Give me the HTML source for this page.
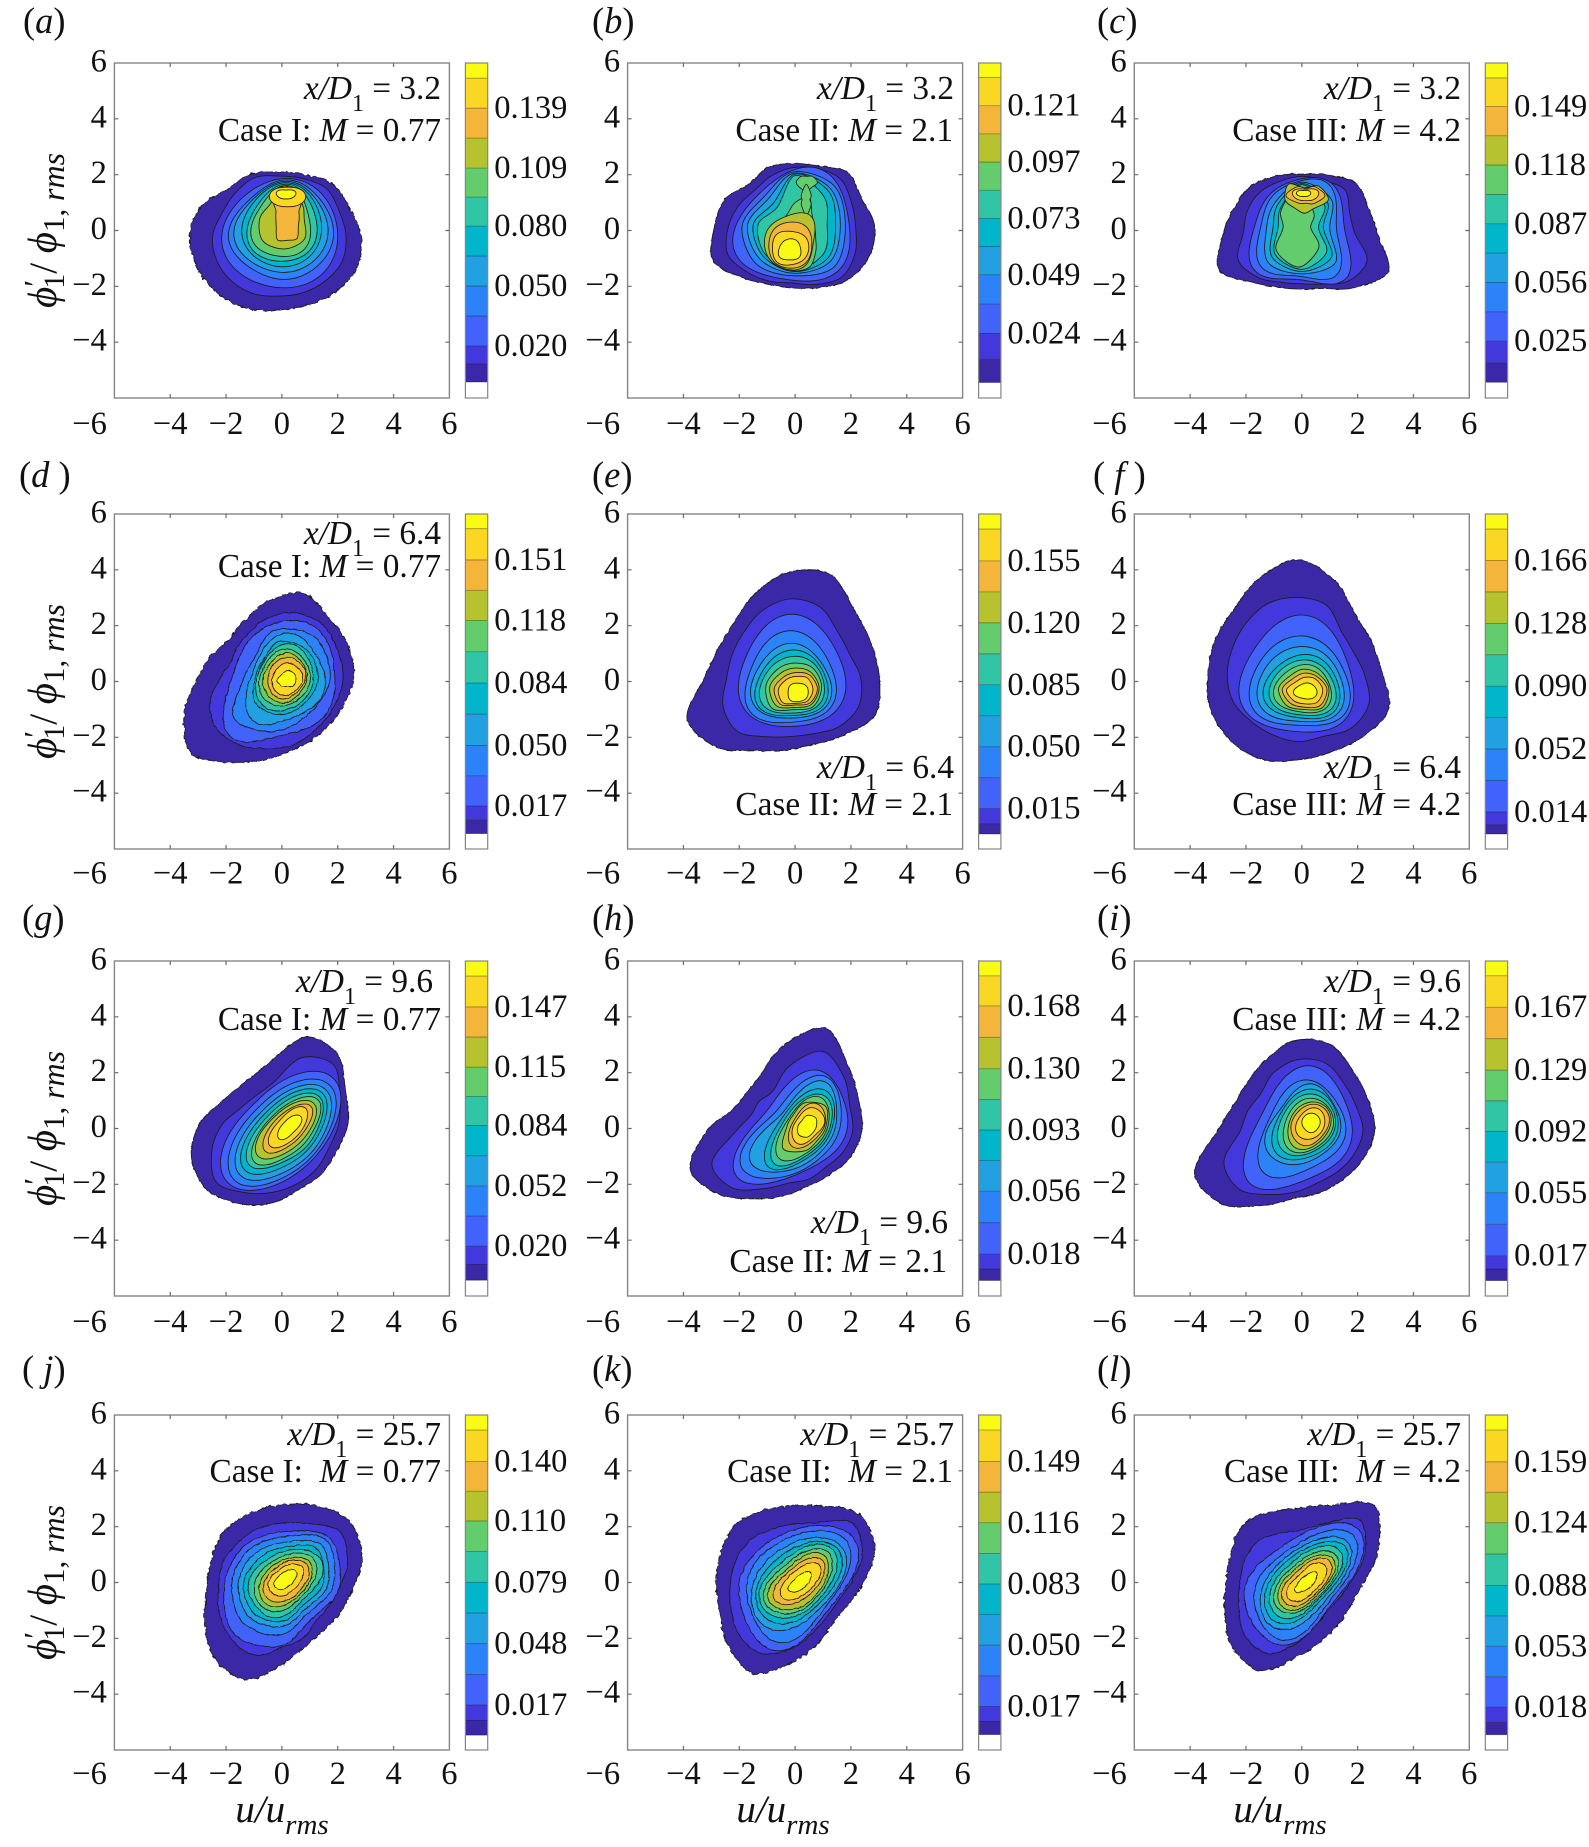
<!DOCTYPE html>
<html lang="en">
<head>
<meta charset="utf-8">
<title>Joint PDF contour panels</title>
<style>
html,body{margin:0;padding:0;background:#fff;}
svg{display:block;filter:blur(0.35px);}
text{font-family:"Liberation Serif",serif;fill:#111;white-space:pre;}
.tick{font-size:32.5px;}
.ann{font-size:33.3px;text-anchor:end;}
.it{font-style:italic;}
.sub{font-size:24px;}
.letter{font-size:36.5px;}
.ylab{font-size:41px;text-anchor:middle;}
.xlab{font-size:39px;text-anchor:middle;font-style:italic;}
</style>
</head>
<body>
<svg id="figure" xmlns="http://www.w3.org/2000/svg" width="1589" height="1847" viewBox="0 0 1589 1847">
<rect width="1589" height="1847" fill="#fff"/>
<defs>
<filter id="edgeSoft" filterUnits="userSpaceOnUse" x="0" y="0" width="1589" height="1847" color-interpolation-filters="sRGB"><feTurbulence type="fractalNoise" baseFrequency="0.2" numOctaves="2" seed="4"/><feDisplacementMap in="SourceGraphic" scale="2.4" xChannelSelector="R" yChannelSelector="G"/></filter>
<filter id="edgeRough" filterUnits="userSpaceOnUse" x="0" y="0" width="1589" height="1847" color-interpolation-filters="sRGB"><feTurbulence type="fractalNoise" baseFrequency="0.22" numOctaves="2" seed="9"/><feDisplacementMap in="SourceGraphic" scale="4.6" xChannelSelector="R" yChannelSelector="G"/></filter>
<filter id="innerRough" filterUnits="userSpaceOnUse" x="0" y="0" width="1589" height="1847" color-interpolation-filters="sRGB"><feTurbulence type="fractalNoise" baseFrequency="0.16" numOctaves="2" seed="15"/><feDisplacementMap in="SourceGraphic" scale="2.2" xChannelSelector="R" yChannelSelector="G"/></filter>
</defs>

<g>
<text class="letter" x="23" y="33">(<tspan class="it">a</tspan>)</text>
<text class="letter" x="592" y="33">(<tspan class="it">b</tspan>)</text>
<text class="letter" x="1097" y="33">(<tspan class="it">c</tspan>)</text>
<text class="letter" x="19" y="487">(<tspan class="it">d</tspan> )</text>
<text class="letter" x="592" y="487">(<tspan class="it">e</tspan>)</text>
<text class="letter" x="1093" y="487">( <tspan class="it">f</tspan> )</text>
<text class="letter" x="22" y="930">(<tspan class="it">g</tspan>)</text>
<text class="letter" x="592" y="930">(<tspan class="it">h</tspan>)</text>
<text class="letter" x="1097" y="930">(<tspan class="it">i</tspan>)</text>
<text class="letter" x="22" y="1381">( <tspan class="it">j</tspan>)</text>
<text class="letter" x="592" y="1381">(<tspan class="it">k</tspan>)</text>
<text class="letter" x="1097" y="1381">(<tspan class="it">l</tspan>)</text>
</g>

<g id="plots"></g>

<g>
<text class="ann" x="441" y="99"><tspan class="it">x/D</tspan><tspan class="sub" dy="12">1</tspan><tspan dy="-12"> = 3.2</tspan></text>
<text class="ann" x="441" y="141">Case I: <tspan class="it">M</tspan> = 0.77</text>
<text class="ann" x="954" y="99"><tspan class="it">x/D</tspan><tspan class="sub" dy="12">1</tspan><tspan dy="-12"> = 3.2</tspan></text>
<text class="ann" x="953" y="141">Case II: <tspan class="it">M</tspan> = 2.1</text>
<text class="ann" x="1461" y="99"><tspan class="it">x/D</tspan><tspan class="sub" dy="12">1</tspan><tspan dy="-12"> = 3.2</tspan></text>
<text class="ann" x="1461" y="141">Case III: <tspan class="it">M</tspan> = 4.2</text>

<text class="ann" x="441" y="544"><tspan class="it">x/D</tspan><tspan class="sub" dy="12">1</tspan><tspan dy="-12"> = 6.4</tspan></text>
<text class="ann" x="441" y="577">Case I: <tspan class="it">M</tspan> = 0.77</text>
<text class="ann" x="954" y="778"><tspan class="it">x/D</tspan><tspan class="sub" dy="12">1</tspan><tspan dy="-12"> = 6.4</tspan></text>
<text class="ann" x="953" y="815">Case II: <tspan class="it">M</tspan> = 2.1</text>
<text class="ann" x="1461" y="778"><tspan class="it">x/D</tspan><tspan class="sub" dy="12">1</tspan><tspan dy="-12"> = 6.4</tspan></text>
<text class="ann" x="1461" y="815">Case III: <tspan class="it">M</tspan> = 4.2</text>

<text class="ann" x="433" y="992"><tspan class="it">x/D</tspan><tspan class="sub" dy="12">1</tspan><tspan dy="-12"> = 9.6</tspan></text>
<text class="ann" x="441" y="1030">Case I: <tspan class="it">M</tspan> = 0.77</text>
<text class="ann" x="948" y="1233"><tspan class="it">x/D</tspan><tspan class="sub" dy="12">1</tspan><tspan dy="-12"> = 9.6</tspan></text>
<text class="ann" x="947" y="1272">Case II: <tspan class="it">M</tspan> = 2.1</text>
<text class="ann" x="1461" y="992"><tspan class="it">x/D</tspan><tspan class="sub" dy="12">1</tspan><tspan dy="-12"> = 9.6</tspan></text>
<text class="ann" x="1461" y="1030">Case III: <tspan class="it">M</tspan> = 4.2</text>

<text class="ann" x="441" y="1445"><tspan class="it">x/D</tspan><tspan class="sub" dy="12">1</tspan><tspan dy="-12"> = 25.7</tspan></text>
<text class="ann" x="441" y="1482">Case I:  <tspan class="it">M</tspan> = 0.77</text>
<text class="ann" x="954" y="1445"><tspan class="it">x/D</tspan><tspan class="sub" dy="12">1</tspan><tspan dy="-12"> = 25.7</tspan></text>
<text class="ann" x="953" y="1482">Case II:  <tspan class="it">M</tspan> = 2.1</text>
<text class="ann" x="1461" y="1445"><tspan class="it">x/D</tspan><tspan class="sub" dy="12">1</tspan><tspan dy="-12"> = 25.7</tspan></text>
<text class="ann" x="1461" y="1482">Case III:  <tspan class="it">M</tspan> = 4.2</text>
</g>

<g>
<text class="ylab" transform="translate(56,230.5) rotate(-90)"><tspan class="it">ϕ</tspan><tspan dy="-10" font-size="32">′</tspan><tspan dy="18" dx="-9" font-size="30">1</tspan><tspan dy="-8" font-size="39">/ </tspan><tspan class="it">ϕ</tspan><tspan dy="8" font-size="31">1, </tspan><tspan class="it" font-size="32">rms</tspan></text>
<text class="ylab" transform="translate(56,681.5) rotate(-90)"><tspan class="it">ϕ</tspan><tspan dy="-10" font-size="32">′</tspan><tspan dy="18" dx="-9" font-size="30">1</tspan><tspan dy="-8" font-size="39">/ </tspan><tspan class="it">ϕ</tspan><tspan dy="8" font-size="31">1, </tspan><tspan class="it" font-size="32">rms</tspan></text>
<text class="ylab" transform="translate(56,1128.5) rotate(-90)"><tspan class="it">ϕ</tspan><tspan dy="-10" font-size="32">′</tspan><tspan dy="18" dx="-9" font-size="30">1</tspan><tspan dy="-8" font-size="39">/ </tspan><tspan class="it">ϕ</tspan><tspan dy="8" font-size="31">1, </tspan><tspan class="it" font-size="32">rms</tspan></text>
<text class="ylab" transform="translate(56,1582.5) rotate(-90)"><tspan class="it">ϕ</tspan><tspan dy="-10" font-size="32">′</tspan><tspan dy="18" dx="-9" font-size="30">1</tspan><tspan dy="-8" font-size="39">/ </tspan><tspan class="it">ϕ</tspan><tspan dy="8" font-size="31">1, </tspan><tspan class="it" font-size="32">rms</tspan></text>
</g>
<g>
<text class="xlab" x="282" y="1822">u/u<tspan dy="12" font-size="29">rms</tspan></text>
<text class="xlab" x="783" y="1822">u/u<tspan dy="12" font-size="29">rms</tspan></text>
<text class="xlab" x="1280" y="1822">u/u<tspan dy="12" font-size="29">rms</tspan></text>
</g>
</svg>

<script>
// Axis tick values
const xTickValues = [-6, -4, -2, 0, 2, 4, 6];
const yTickValues = [-6, -4, -2, 0, 2, 4, 6];
const bandColors = ['#3a28a6','#4338dc','#4162fb','#2c82f9','#21a0e2','#01b6cb','#2fc5a5','#63cd6e','#b6c32f','#f3b63a','#f9d723','#f9fb14'];

// Contour rings: [band level, centre x, centre y, radii going counter-clockwise from +x]
const panelAContours = [
[1,-.2,-.3,3.05,2.85,2.8,2.5,2.4,2.5,2.5,2.95,3.1,3.0,2.85,2.7,2.55,2.6,2.8,3.05],
[2,-.1,-.2,2.4,2.33,2.4,2.23,2.15,2.27,2.2,2.2,2.38,2.4,2.34,2.25,2.15,2.2,2.3,2.43],
[3,-.05,-.15,2.05,2.08,2.0,1.9,2.1,2.0,1.9,2.05],
[4,0,0,1.85,1.77,1.8,1.6,1.9,1.77,1.75,1.8],
[5,0,.1,1.65,1.6,1.65,1.45,1.7,1.65,1.6,1.65],
[6,0,.2,1.42,1.45,1.5,1.3,1.42,1.5,1.5,1.5],
[7,.05,.25,1.2,1.25,1.4,1.15,1.25,1.45,1.35,1.35],
[8,.05,.3,.95,1.05,1.3,1.0,1.1,1.3,1.23,1.2],
[9,.1,.4,.7,.85,1.2,.75,.9,1.1,1.06,1.0],
[10,.2,.55,.42,.45,.72,.95,.95,.95,.72,.45,.42,.45,.57,.95,.9,.9,.55,.45],
[11,.2,1.25,.65,.4,.3,.4,.65,.5,.4,.5],
[12,.15,1.3,.35,.22,.15,.22,.35,.22,.17,.22]
];
const panelBContours = [
[1,-.1,.1,2.96,2.7,2.8,2.4,2.3,2.33,2.2,2.63,2.8,3.08,2.53,2.2,2.16,2.33,2.7,2.93],
[2,-.1,.1,2.27,2.3,2.45,2.3,2.15,2.0,1.9,2.08,2.3,2.5,2.26,2.08,1.98,2.2,2.5,2.43],
[3,-.1,.1,2.05,2.26,2.05,1.7,2.05,2.1,1.88,2.25],
[4,-.05,.15,1.85,2.05,1.95,1.5,1.85,1.9,1.77,2.05],
[5,-.05,.2,1.67,1.85,1.85,1.3,1.65,1.72,1.73,1.85],
[6,0,.2,1.45,1.7,1.82,1.1,1.5,1.6,1.67,1.67],
[7,0,.2,1.15,1.45,1.77,.9,1.33,1.5,1.63,1.45],
[8,0,0,.72,.72,.85,1.3,1.0,.67,.58,.58,.8,1.05,1.35,1.44,1.45,1.4,1.05,.8],
[8,.42,1.72,.38,.3,.22,.3,.38,.3,.3,.25],
[8,.4,1.1,.13,.25,.55,.25,.15,.25,.55,.25],
[9,-.2,-.45,.85,1.2,1.0,.92,.9,.92,.96,.95],
[10,-.17,-.5,.77,.85,.8,.8,.77,.85,.85,.85],
[11,-.16,-.63,.65,.65,.6,.7,.65,.7,.6,.62],
[12,-.2,-.67,.4,.4,.37,.35,.38,.45,.38,.45]
];
const panelCContours = [
[1,0,-.2,2.74,2.6,2.7,2.37,2.22,2.34,2.55,2.63,2.84,3.2,2.37,2.0,1.9,2.03,2.62,3.35],
[2,0,-.1,1.9,1.86,2.19,2.04,2.04,2.02,2.1,2.11,2.1,2.47,2.23,1.9,1.81,1.97,2.4,2.53],
[3,0,-.05,1.55,1.9,1.9,1.75,1.75,2.15,1.72,2.3],
[4,0,0,1.25,1.7,1.79,1.6,1.5,1.95,1.65,1.95],
[5,0,.05,1.0,1.5,1.68,1.35,1.27,1.7,1.6,1.7],
[6,0,.1,.77,1.3,1.58,1.2,1.03,1.5,1.57,1.5],
[7,0,.1,.6,1.15,1.54,1.05,.85,1.35,1.49,1.25],
[8,-.1,.1,.42,.75,1.48,.9,.57,1.15,1.41,1.0],
[9,.1,1.1,.85,.7,.43,.8,.7,.45,.48,.45],
[10,.15,1.25,.68,.45,.26,.45,.72,.38,.27,.4],
[11,.15,1.28,.45,.3,.2,.3,.48,.28,.21,.28],
[12,.07,1.32,.25,.16,.11,.16,.26,.14,.1,.14]
];
const panelDContours = [
[1,-.55,.1,3.12,3.15,3.13,3.33,2.74,2.2,1.94,2.15,2.48,3.2,3.79,3.24,2.88,2.72,2.76,2.88],
[2,-.55,.1,2.74,2.75,2.78,2.56,2.15,1.73,1.52,1.41,1.67,2.2,2.53,2.56,2.5,2.56,2.53,2.62],
[3,-.4,.1,2.3,2.45,1.93,1.43,1.4,2.36,2.13,2.28],
[4,-.3,.1,2.03,2.1,1.72,1.0,1.07,2.0,1.89,1.78],
[5,-.2,.1,1.75,1.68,1.52,.95,.93,1.52,1.59,1.6],
[6,-.1,.1,1.4,1.43,1.34,.85,.86,1.22,1.29,1.27],
[7,-.05,.1,1.18,1.25,1.2,.85,.85,1.1,1.15,1.12],
[8,0,.1,1.02,1.05,1.05,.8,.8,.95,.98,.95],
[9,.05,.1,.85,.9,.9,.7,.73,.8,.87,.78],
[10,.1,.1,.75,.78,.76,.62,.6,.68,.72,.65],
[11,.15,.05,.6,.62,.62,.5,.5,.55,.55,.5],
[12,.2,.03,.3,.35,.36,.3,.38,.28,.2,.28]
];
const panelEContours = [
[1,-.33,.12,3.35,3.3,3.46,4.05,3.76,3.16,2.7,2.65,2.93,3.83,3.5,2.8,2.58,2.57,2.9,3.46],
[2,-.15,.12,2.5,2.27,2.36,2.75,2.84,2.63,2.36,2.27,2.3,2.63,2.7,2.27,2.09,2.15,2.45,2.63],
[3,-.1,.06,1.91,1.95,2.35,1.95,1.91,1.95,1.67,1.86],
[4,-.14,-.05,1.6,1.6,1.87,1.6,1.6,1.75,1.41,1.6],
[5,-.13,-.05,1.41,1.3,1.42,1.3,1.42,1.5,1.26,1.45],
[6,-.1,-.1,1.26,1.2,1.23,1.15,1.28,1.4,1.12,1.3],
[7,-.08,-.12,1.12,1.07,1.02,1.0,1.15,1.25,1.01,1.15],
[8,-.05,-.18,1.0,.95,.84,.85,1.0,1.1,.83,1.0],
[9,-.02,-.22,.88,.8,.7,.72,.89,.92,.71,.85],
[10,.02,-.26,.78,.7,.58,.6,.77,.78,.58,.72],
[11,.02,-.3,.62,.6,.48,.5,.62,.65,.48,.58],
[12,.1,-.4,.37,.38,.34,.38,.35,.38,.32,.35]
];
const panelFContours = [
[1,-.14,.36,3.01,2.84,2.9,3.5,4.0,3.62,3.2,3.17,3.22,3.4,3.46,3.4,3.17,3.13,3.3,3.52],
[2,-.14,.24,2.39,2.15,2.2,2.69,2.77,2.77,2.62,2.53,2.53,2.51,2.36,2.33,2.39,2.39,2.7,2.75],
[3,-.1,.1,1.9,1.95,2.28,1.95,2.1,2.15,1.9,2.2],
[4,-.1,0,1.75,1.6,1.63,1.55,1.72,1.85,1.57,1.95],
[5,-.05,-.05,1.5,1.35,1.3,1.3,1.5,1.6,1.38,1.7],
[6,0,-.1,1.3,1.15,1.06,1.05,1.33,1.37,1.21,1.5],
[7,0,-.15,1.17,1.0,.92,.92,1.13,1.18,1.05,1.32],
[8,.02,-.2,1.0,.88,.8,.78,1.0,1.0,.9,1.12],
[9,.05,-.25,.92,.75,.69,.65,.88,.85,.75,.97],
[10,.08,-.28,.82,.65,.58,.55,.78,.7,.64,.82],
[11,.1,-.3,.65,.55,.45,.42,.65,.55,.5,.63],
[12,.12,-.33,.42,.33,.27,.27,.41,.33,.29,.38]
];
const panelGContours = [
[1,-.42,.25,2.8,2.92,3.41,3.28,2.14,1.73,1.68,1.87,2.48,3.06,3.33,3.16,2.93,2.65,2.62,2.62],
[2,-.3,.13,2.33,2.57,3.04,2.6,1.52,1.25,1.22,1.37,1.85,2.39,2.9,2.63,2.41,2.27,2.2,2.15],
[3,-.3,.1,2.2,2.65,1.4,1.05,1.4,2.55,2.15,1.85],
[4,-.2,.05,1.95,2.35,1.25,.95,1.25,2.35,1.92,1.65],
[5,-.1,.03,1.7,2.1,1.12,.85,1.12,2.15,1.68,1.45],
[6,-.05,.03,1.48,1.9,.99,.75,.99,1.95,1.45,1.25],
[7,0,.03,1.3,1.7,.86,.65,.86,1.75,1.25,1.1],
[8,.03,.03,1.15,1.55,.73,.55,.73,1.55,1.12,.95],
[9,.05,.03,1.0,1.35,.66,.5,.68,1.35,.95,.8],
[10,.12,.05,.78,1.15,.55,.42,.55,1.1,.76,.62],
[11,.18,.05,.6,.95,.5,.35,.46,.9,.6,.48],
[12,.25,.07,.36,.55,.3,.22,.29,.55,.36,.26]
];
const panelHContours = [
[1,-.45,-.1,2.84,2.95,3.33,4.0,3.05,2.13,1.89,1.97,2.72,3.58,3.2,2.62,2.33,2.17,2.28,2.57],
[2,-.21,-.1,2.27,2.35,2.76,3.1,2.33,1.55,1.52,1.49,1.91,3.0,2.87,2.21,1.85,1.85,1.83,2.05],
[3,-.1,-.1,1.95,2.28,1.85,1.18,1.55,2.53,1.61,1.52],
[4,.02,-.1,1.55,2.1,1.55,1.0,1.45,2.25,1.5,1.3],
[5,.1,-.1,1.3,1.85,1.35,.85,1.25,1.95,1.3,1.1],
[6,.2,-.05,1.1,1.6,1.2,.8,.95,1.75,1.15,.95],
[7,.25,-.02,.98,1.4,1.05,.72,.82,1.55,1.05,.85],
[8,.3,0,.85,1.2,.98,.65,.75,1.35,.95,.75],
[9,.35,.05,.75,1.05,.87,.6,.65,1.1,.85,.65],
[10,.4,.08,.65,.85,.75,.5,.55,.85,.7,.55],
[11,.42,.1,.6,.7,.6,.42,.48,.68,.6,.45],
[12,.43,.07,.33,.44,.4,.28,.33,.42,.38,.3]
];
const panelIContours = [
[1,-.26,-.1,2.87,2.87,3.0,3.37,3.25,2.75,2.42,2.39,2.77,3.88,3.68,2.87,2.4,2.37,2.45,2.65],
[2,-.14,-.1,2.33,2.27,2.37,2.63,2.57,2.27,1.89,1.94,2.07,2.87,2.95,2.45,2.15,1.97,2.03,2.17],
[3,-.14,-.1,1.95,2.1,2.27,1.5,1.6,2.53,1.85,1.77],
[4,-.02,0,1.6,1.6,1.72,1.25,1.3,2.05,1.57,1.45],
[5,.05,.05,1.35,1.4,1.5,1.05,1.25,1.55,1.3,1.2],
[6,.1,.08,1.2,1.3,1.3,1.0,1.08,1.4,1.15,1.1],
[7,.13,.1,1.07,1.15,1.12,.9,.95,1.2,1.03,.95],
[8,.18,.12,.95,1.0,.95,.78,.8,1.05,.95,.85],
[9,.23,.13,.8,.9,.8,.68,.7,.9,.85,.72],
[10,.27,.15,.7,.78,.7,.6,.65,.75,.75,.62],
[11,.3,.17,.52,.6,.55,.45,.5,.6,.55,.5],
[12,.33,.22,.33,.33,.33,.32,.33,.33,.37,.33]
];
const panelJContours = [
[1,0,-.3,2.5,3.1,3.47,3.3,3.08,3.0,2.97,2.75,2.7,3.0,3.4,3.45,2.65,2.15,2.05,2.2],
[2,0,-.2,2.05,2.55,2.9,2.5,2.33,2.3,2.26,2.3,2.27,2.42,2.57,2.6,2.13,1.95,1.7,1.8],
[3,-.1,-.2,2.15,2.55,2.0,1.95,1.97,2.3,2.1,1.6],
[4,-.05,-.1,1.9,2.3,1.73,1.7,1.75,1.9,1.78,1.4],
[5,-.02,-.05,1.67,2.0,1.47,1.45,1.55,1.65,1.53,1.25],
[6,0,-.05,1.47,1.78,1.3,1.22,1.37,1.45,1.35,1.08],
[7,.02,-.02,1.27,1.55,1.12,1.02,1.22,1.27,1.2,.95],
[8,.05,0,1.05,1.35,.95,.85,1.02,1.15,1.0,.82],
[9,.07,0,.9,1.15,.82,.72,.85,1.0,.82,.7],
[10,.1,.02,.78,1.0,.7,.6,.72,.85,.68,.6],
[11,.1,.05,.58,.8,.53,.45,.56,.62,.5,.45],
[12,.1,.08,.34,.52,.3,.26,.34,.42,.3,.25]
];
const panelKContours = [
[1,-.1,.04,2.57,3.2,3.4,2.93,2.69,2.75,2.87,2.77,2.71,2.82,3.25,3.58,2.89,2.4,2.07,2.15],
[2,-.1,.04,2.13,2.72,3.0,2.27,2.05,2.0,2.11,2.15,2.21,2.39,2.7,2.8,2.39,1.97,1.77,1.79],
[3,-.05,-.05,1.95,2.65,1.93,1.75,1.95,2.25,2.24,1.55],
[4,-.03,-.05,1.7,2.4,1.73,1.55,1.7,1.95,2.0,1.4],
[5,0,-.05,1.6,2.1,1.5,1.3,1.5,1.85,1.55,1.25],
[6,.03,-.03,1.42,1.92,1.3,1.1,1.35,1.65,1.35,1.1],
[7,.05,0,1.25,1.75,1.12,.9,1.2,1.5,1.2,1.0],
[8,.07,0,1.08,1.55,.95,.75,1.05,1.35,1.05,.88],
[9,.1,0,.95,1.35,.82,.62,.9,1.2,.92,.78],
[10,.12,.02,.78,1.15,.65,.5,.72,1.05,.72,.6],
[11,.17,.03,.6,.92,.5,.4,.55,.85,.55,.45],
[12,.17,0,.32,.52,.27,.2,.3,.48,.28,.24]
];
const panelLContours = [
[1,-.14,.04,2.39,3.13,3.85,2.95,2.62,2.69,2.82,2.6,2.57,2.84,3.33,3.46,2.69,2.27,2.11,2.09],
[2,-.14,.04,1.91,2.6,3.12,2.21,1.82,1.85,2.03,2.05,2.07,2.3,2.7,2.8,2.19,1.7,1.52,1.59],
[3,-.05,-.05,1.7,2.85,1.75,1.5,1.95,2.25,2.0,1.35],
[4,-.03,-.05,1.5,2.55,1.5,1.25,1.6,2.0,1.82,1.2],
[5,0,-.03,1.35,2.2,1.32,1.08,1.35,1.85,1.45,1.05],
[6,.02,0,1.22,1.98,1.15,.95,1.2,1.7,1.25,.92],
[7,.05,0,1.08,1.72,1.02,.8,1.05,1.5,1.1,.8],
[8,.08,0,.97,1.5,.88,.68,.92,1.32,.95,.72],
[9,.1,0,.85,1.3,.76,.58,.8,1.18,.85,.62],
[10,.12,0,.75,1.15,.65,.48,.68,1.03,.72,.54],
[11,.15,0,.58,.92,.5,.36,.52,.85,.56,.42],
[12,.15,0,.3,.52,.26,.2,.28,.48,.27,.23]
];

// Colour-bar printed ticks, band lower edges and limits
const panelATicks = [.020,.050,.080,.109,.139];
const panelBTicks = [.024,.049,.073,.097,.121];
const panelCTicks = [.025,.056,.087,.118,.149];
const panelDTicks = [.017,.050,.084,.118,.151];
const panelETicks = [.015,.050,.085,.120,.155];
const panelFTicks = [.014,.052,.090,.128,.166];
const panelGTicks = [.020,.052,.084,.115,.147];
const panelHTicks = [.018,.056,.093,.130,.168];
const panelITicks = [.017,.055,.092,.129,.167];
const panelJTicks = [.017,.048,.079,.110,.140];
const panelKTicks = [.017,.050,.083,.116,.149];
const panelLTicks = [.018,.053,.088,.124,.159];

const panelALevels = [.002,.011,.020,.035,.050,.065,.080,.0945,.109,.124,.139,.154];
const panelBLevels = [.0031,.013,.024,.0365,.049,.061,.073,.085,.097,.109,.121,.133];
const panelCLevels = [.0033,.0136,.025,.0405,.056,.0715,.087,.1025,.118,.1335,.149,.164];
const panelDLevels = [.002,.0093,.017,.0335,.050,.067,.084,.101,.118,.1345,.151,.168];
const panelELevels = [.0007,.0065,.015,.0325,.050,.0675,.085,.1025,.120,.1375,.155,.173];
const panelFLevels = [.0007,.0063,.014,.033,.052,.071,.090,.109,.128,.147,.166,.185];
const panelGLevels = [.0019,.0102,.020,.036,.052,.068,.084,.0995,.115,.131,.147,.1634];
const panelHLevels = [.0021,.009,.018,.037,.056,.0745,.093,.1115,.130,.149,.168,.1861];
const panelILevels = [.002,.009,.017,.036,.055,.0735,.092,.1105,.129,.148,.167,.186];
const panelJLevels = [.0018,.0092,.017,.0325,.048,.0635,.079,.0945,.110,.125,.140,.1559];
const panelKLevels = [.0018,.0089,.017,.0335,.050,.0665,.083,.0995,.116,.1325,.149,.166];
const panelLLevels = [.0022,.0093,.018,.0355,.053,.0705,.088,.106,.124,.1415,.159,.1773];

const panelADomain = [-.006,.1616];
const panelBDomain = [-.0035,.1392];
const panelCDomain = [-.005,.1719];
const panelDDomain = [-.0064,.176];
const panelEDomain = [-.0078,.1815];
const panelFDomain = [-.0084,.1941];
const panelGDomain = [-.0065,.1714];
const panelHDomain = [-.0073,.1951];
const panelIDomain = [-.0073,.1949];
const panelJDomain = [-.0057,.1635];
const panelKDomain = [-.0065,.1741];
const panelLDomain = [-.0066,.1859];

const NS = 'http://www.w3.org/2000/svg';
const AXIS_SIZE = 335;
const CBAR_GAP = 351;
const CBAR_W = 22.3;
const columnLeft = [114.4, 627.6, 1134.3];
const rowTop = [63, 514, 961, 1415];
const rowTickDrop = [36, 34.5, 36, 34];
const panels = [
 {id:'a',col:0,row:0,rings:panelAContours,ticks:panelATicks,levels:panelALevels,domain:panelADomain,edge:'edgeRough',inner:''},
 {id:'b',col:1,row:0,rings:panelBContours,ticks:panelBTicks,levels:panelBLevels,domain:panelBDomain,edge:'edgeSoft',inner:''},
 {id:'c',col:2,row:0,rings:panelCContours,ticks:panelCTicks,levels:panelCLevels,domain:panelCDomain,edge:'edgeSoft',inner:''},
 {id:'d',col:0,row:1,rings:panelDContours,ticks:panelDTicks,levels:panelDLevels,domain:panelDDomain,edge:'edgeRough',inner:'innerRough'},
 {id:'e',col:1,row:1,rings:panelEContours,ticks:panelETicks,levels:panelELevels,domain:panelEDomain,edge:'edgeSoft',inner:''},
 {id:'f',col:2,row:1,rings:panelFContours,ticks:panelFTicks,levels:panelFLevels,domain:panelFDomain,edge:'edgeSoft',inner:''},
 {id:'g',col:0,row:2,rings:panelGContours,ticks:panelGTicks,levels:panelGLevels,domain:panelGDomain,edge:'edgeSoft',inner:''},
 {id:'h',col:1,row:2,rings:panelHContours,ticks:panelHTicks,levels:panelHLevels,domain:panelHDomain,edge:'edgeSoft',inner:''},
 {id:'i',col:2,row:2,rings:panelIContours,ticks:panelITicks,levels:panelILevels,domain:panelIDomain,edge:'edgeSoft',inner:''},
 {id:'j',col:0,row:3,rings:panelJContours,ticks:panelJTicks,levels:panelJLevels,domain:panelJDomain,edge:'edgeRough',inner:'innerRough'},
 {id:'k',col:1,row:3,rings:panelKContours,ticks:panelKTicks,levels:panelKLevels,domain:panelKDomain,edge:'edgeRough',inner:'innerRough'},
 {id:'l',col:2,row:3,rings:panelLContours,ticks:panelLTicks,levels:panelLLevels,domain:panelLDomain,edge:'edgeRough',inner:'innerRough'}
];

function make(tag, attrs, parent) {
  const el = document.createElementNS(NS, tag);
  for (const k in attrs) el.setAttribute(k, attrs[k]);
  parent.appendChild(el);
  return el;
}
function closedSpline(pts) {
  const n = pts.length;
  let d = 'M' + pts[0][0].toFixed(2) + ' ' + pts[0][1].toFixed(2);
  for (let i = 0; i < n; i++) {
    const p0 = pts[(i - 1 + n) % n], p1 = pts[i], p2 = pts[(i + 1) % n], p3 = pts[(i + 2) % n];
    const c1x = p1[0] + (p2[0] - p0[0]) / 6, c1y = p1[1] + (p2[1] - p0[1]) / 6;
    const c2x = p2[0] - (p3[0] - p1[0]) / 6, c2y = p2[1] - (p3[1] - p1[1]) / 6;
    d += 'C' + c1x.toFixed(2) + ' ' + c1y.toFixed(2) + ' ' + c2x.toFixed(2) + ' ' + c2y.toFixed(2) + ' ' + p2[0].toFixed(2) + ' ' + p2[1].toFixed(2);
  }
  return d + 'Z';
}
// Coarse 8-ray rings are rounded with a trigonometric fit of 1/r^2, which reproduces ellipses exactly.
// Rings that are not ellipse-like overshoot under that fit, so they keep their measured rays.
function roundRadii(radii) {
  if (radii.length > 8) return radii;
  const n = radii.length, u = radii.map(function (r) { return 1 / (r * r); }), out = [];
  for (let j = 0; j < 32; j++) {
    const phi = 2 * Math.PI * j / 32;
    let s = 0;
    for (let k = -n / 2; k <= n / 2; k++) {
      const w = Math.abs(k) === n / 2 ? 0.5 : 1;
      let re = 0, im = 0;
      for (let i = 0; i < n; i++) {
        const a = 2 * Math.PI * i * k / n;
        re += u[i] * Math.cos(a);
        im -= u[i] * Math.sin(a);
      }
      s += w * (re * Math.cos(k * phi) - im * Math.sin(k * phi)) / n;
    }
    out.push(1 / Math.sqrt(Math.max(s, 0.02)));
  }
  const big = Math.max.apply(null, radii), small = Math.min.apply(null, radii);
  if (Math.max.apply(null, out) > 1.05 * big || Math.min.apply(null, out) < 0.85 * small) return radii;
  return out;
}
function fmtTick(v) { return v < 0 ? '\u2212' + Math.abs(v) : String(v); }

const plots = document.getElementById('plots');
panels.forEach(function (p) {
  const left = columnLeft[p.col], top = rowTop[p.row];
  const xScale = function (v) { return left + (v + 6) / 12 * AXIS_SIZE; };
  const yScale = function (v) { return top + (6 - v) / 12 * AXIS_SIZE; };
  const cbY = function (v) { return top + AXIS_SIZE - (v - p.domain[0]) / (p.domain[1] - p.domain[0]) * AXIS_SIZE; };

  const g = make('g', {}, plots);
  
  

  const edgeGroup = make('g', {filter: 'url(#' + p.edge + ')'}, g);
  
  
  const innerGroup = make('g', p.inner ? {filter: 'url(#' + p.inner + ')'} : {}, g);
  
  
  p.rings.forEach(function (ring) {
    const level = ring[0], cx = ring[1], cy = ring[2], radii = roundRadii(ring.slice(3));
    const pts = radii.map(function (r, i) {
      const a = 2 * Math.PI * i / radii.length;
      return [xScale(cx + r * Math.cos(a)), yScale(cy + r * Math.sin(a))];
    });
    const path = make('path', {d: closedSpline(pts), fill: bandColors[level - 1], stroke: '#1c1c1c', 'stroke-width': 0.85, 'stroke-linejoin': 'round'}, level === 1 ? edgeGroup : innerGroup);
    
    
  });

  const frame = make('rect', {x: left, y: top, width: AXIS_SIZE, height: AXIS_SIZE, fill: 'none', stroke: '#858585', 'stroke-width': 1.4}, g);
  
  

  xTickValues.forEach(function (v, i) {
    const x = xScale(v);
    if (i > 0 && i < xTickValues.length - 1) {
      const t1 = make('path', {d: 'M' + x + ' ' + (top + AXIS_SIZE) + 'v-4M' + x + ' ' + top + 'v4', stroke: '#6a6a6a', 'stroke-width': 1.2}, g);
      
      
    }
    const first = i === 0;
    const lab = make('text', {class: 'tick', x: first ? left - 7.5 : x, y: top + AXIS_SIZE + rowTickDrop[p.row], 'text-anchor': first ? 'end' : 'middle'}, g);
    
    
    lab.textContent = fmtTick(v);
  });
  yTickValues.forEach(function (v, i) {
    const y = yScale(v);
    if (i > 0 && i < yTickValues.length - 1) {
      const t2 = make('path', {d: 'M' + left + ' ' + y + 'h4M' + (left + AXIS_SIZE) + ' ' + y + 'h-4', stroke: '#6a6a6a', 'stroke-width': 1.2}, g);
      
      
    }
    if (i > 0) {
      const lab = make('text', {class: 'tick', x: left - 7.5, y: y + 8.5, 'text-anchor': 'end'}, g);
      
      
      lab.textContent = fmtTick(v);
    }
  });

  const cbx = left + CBAR_GAP;
  const bar = make('g', {}, g);
  
  
  p.levels.forEach(function (lv, i) {
    const next = i < p.levels.length - 1 ? p.levels[i + 1] : p.domain[1];
    const y1 = cbY(next), y0 = cbY(lv);
    const band = make('rect', {x: cbx, y: y1, width: CBAR_W, height: y0 - y1, fill: bandColors[i]}, bar);
    
    
    const edge = make('path', {d: 'M' + cbx + ' ' + y0 + 'h' + CBAR_W, stroke: 'rgba(0,0,0,0.4)', 'stroke-width': 0.8}, bar);
    
    
  });
  const cbFrame = make('rect', {x: cbx, y: top, width: CBAR_W, height: AXIS_SIZE, fill: 'none', stroke: '#858585', 'stroke-width': 1.2}, bar);
  
  
  p.ticks.forEach(function (v) {
    const lab = make('text', {class: 'tick', x: cbx + CBAR_W + 6.5, y: cbY(v) + 10}, bar);
    
    
    lab.textContent = v.toFixed(3);
  });
});
</script>
</body>
</html>
